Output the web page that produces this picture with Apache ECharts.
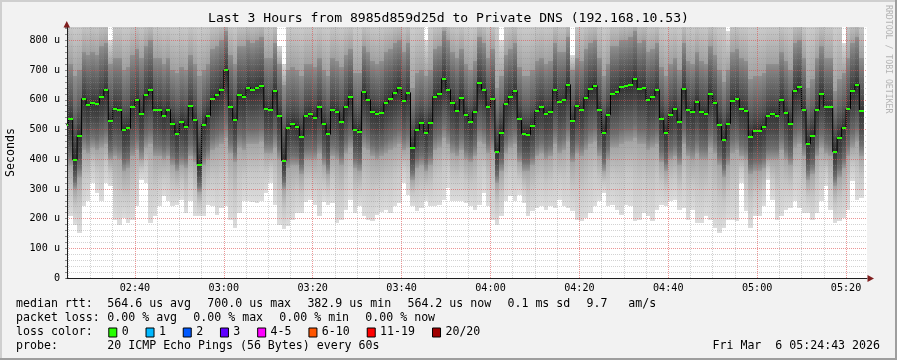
<!DOCTYPE html>
<html><head><meta charset="utf-8">
<script src="https://cdn.jsdelivr.net/npm/echarts@6/dist/echarts.min.js"></script>
<style>html,body{margin:0;padding:0;background:#f2f2f2}#c{width:897px;height:360px}</style>
</head><body><div id="c"></div>
<script>
// ---------------- data ----------------
const titleText = 'Last 3 Hours from 8985d859d25d to Private DNS (192.168.10.53)';
const rangeStart = '02:24:43';
const rangeEnd = '05:24:43';
const firstBarStart = '02:24';          // one bar per minute
const xTickLabels = ['02:40','03:00','03:20','03:40','04:00','04:20','04:40','05:00','05:20'];
const yTickValues = [0,100,200,300,400,500,600,700,800];

// median RTT per minute (microseconds)
const medianUs = [
516,536,398,477,604,581,588,585,608,634,
527,570,565,497,504,577,600,553,617,634,
567,567,547,567,520,486,526,510,579,531,
382,516,547,604,617,634,700,577,531,617,
611,641,634,641,648,570,567,631,547,395,
506,520,510,474,547,553,540,574,520,484,
567,560,526,577,611,499,493,627,600,560,
553,557,590,604,624,641,597,624,439,499,
523,489,523,611,621,671,634,590,563,607,
550,526,560,658,634,574,604,425,489,587,
611,631,536,486,483,513,563,577,553,560,
634,594,600,651,530,580,567,607,637,648,
567,489,550,621,625,644,648,651,671,637,
641,600,611,634,536,489,550,570,526,637,
565,560,594,560,553,621,590,516,464,520,
597,604,570,561,476,496,496,510,547,553,
547,600,557,520,631,644,567,452,479,567,
621,577,574,425,472,506,570,631,651,563];

// fastest ping per minute (bottom of the smoke)
const minUs = [
208,208,180,152,241,258,320,286,258,320,
309,196,180,202,185,196,241,331,320,185,
208,241,275,258,241,247,264,219,258,208,
208,208,247,241,213,236,241,196,168,219,
258,258,255,252,258,286,320,247,180,165,
174,196,219,219,255,264,247,208,255,247,
252,185,196,230,264,219,241,208,196,191,
213,221,230,219,241,252,320,281,241,224,
236,258,241,241,247,264,303,258,258,258,
252,241,230,247,286,241,196,180,208,258,
275,258,281,252,208,224,236,241,230,241,
236,264,241,236,224,196,191,202,219,241,
258,286,241,247,230,213,247,241,191,196,
219,208,191,230,247,241,258,264,230,236,
196,230,185,185,208,196,168,152,168,196,
196,191,320,224,168,208,208,241,331,264,
196,208,230,236,258,236,219,219,196,219,
258,309,230,185,191,202,230,325,264,269];

// lower edge of the dense smoke
const lowUs = [
390,380,300,340,430,420,440,430,440,450,
400,410,400,360,370,410,430,400,440,450,
410,410,400,410,380,360,380,370,410,390,
290,380,400,430,440,450,470,420,390,440,
430,450,450,450,460,420,420,440,400,300,
370,380,380,350,400,400,400,420,380,350,
410,400,380,420,440,370,360,440,430,410,
400,410,420,430,440,450,430,440,330,370,
380,360,380,430,440,470,450,420,410,430,
400,390,410,460,450,420,430,320,360,420,
440,450,390,360,360,380,410,420,400,410,
450,420,430,460,390,420,410,430,450,460,
410,360,400,440,440,450,460,460,470,450,
450,430,440,450,390,360,400,410,380,450,
410,400,420,400,400,440,420,380,340,380,
420,430,410,400,350,360,360,370,400,400,
400,430,400,380,440,450,410,330,350,410,
440,420,410,310,340,370,410,440,460,410];

// upper edge of the dense smoke
const highUs = [
700,720,680,700,760,750,760,750,780,790,
720,740,740,700,710,750,770,740,780,800,
740,740,720,740,700,690,710,700,750,720,
680,700,720,770,780,800,830,750,720,780,
780,800,790,800,810,740,740,790,720,650,
700,710,700,680,720,720,710,740,700,680,
740,730,710,750,770,690,690,780,760,730,
720,730,760,770,790,800,760,790,640,690,
700,680,700,770,780,830,800,760,740,770,
720,700,730,810,790,740,770,640,680,750,
770,790,710,680,680,700,730,740,720,730,
790,760,760,810,700,740,730,770,790,800,
740,680,720,780,780,800,800,810,830,790,
800,760,770,790,710,680,720,740,700,790,
730,720,760,730,720,780,750,700,660,700,
760,770,740,730,670,680,680,690,720,720,
720,760,730,700,790,800,740,640,670,740,
780,740,740,630,670,690,740,790,810,740];

// slowest ping per minute (top of the smoke, often above the chart)
const maxUs = [
900,900,900,900,900,900,900,900,900,900,
800,900,900,900,900,900,900,900,900,900,
900,900,900,900,900,900,900,900,900,900,
900,900,900,900,900,900,900,900,900,900,
900,900,900,900,900,900,900,900,780,720,
900,900,900,900,900,900,900,900,900,900,
900,900,900,900,900,900,900,900,900,900,
900,900,900,900,900,900,900,900,900,900,
900,800,900,900,900,900,900,900,900,900,
900,900,900,900,900,900,900,900,800,900,
900,900,900,900,900,900,900,900,900,900,
900,900,900,900,750,900,900,900,900,900,
900,900,900,900,900,900,900,900,900,900,
900,900,900,900,900,900,900,900,900,900,
900,900,900,900,900,900,900,900,900,830,
900,900,900,900,900,900,900,900,900,900,
900,900,900,900,900,900,900,900,900,900,
900,900,900,900,900,790,900,900,900,900];

const legendRtt = ['median rtt:', '564.6 us avg', '700.0 us max', '382.9 us min', '564.2 us now', '0.1 ms sd', '9.7   am/s'];
const legendLoss = ['packet loss:', '0.00 % avg', '0.00 % max', '0.00 % min', '0.00 % now'];
const lossLabels = ['0','1','2','3','4-5','6-10','11-19','20/20'];
const lossColors = ['#26ff00','#00b8ff','#0059ff','#5e00ff','#ff00ff','#ff5500','#ff0000','#a00000'];
const probeText = ['probe:', '20 ICMP Echo Pings (56 Bytes) every 60s'];
const dateText = 'Fri Mar  6 05:24:43 2026';

// ---------------- build ----------------
const toMin = s => { const p = s.split(':').map(Number); return p[0]*60 + p[1] + (p[2]||0)/60; };
const xMin = toMin(rangeStart), xMax = toMin(rangeEnd), bar0 = toMin(firstBarStart);
const smokeData = medianUs.map((m,j)=>[bar0+j, minUs[j], lowUs[j], m, highUs[j], maxUs[j]]);
const medData = medianUs.map((m,j)=>[bar0+j, m]);
const stepData = medianUs.map((m,j)=>[bar0+j+0.5, m]);
const majorX = xTickLabels.map(toMin);

const MINOR = 'rgba(143,143,143,0.4)', MAJOR = 'rgba(222,79,79,0.6)';
const vLines = [];
for (let v = Math.ceil(xMin/5)*5; v <= xMax; v += 5) {
  const isMajor = majorX.includes(v);
  vLines.push({xAxis: v, lineStyle: {color: isMajor ? MAJOR : MINOR, type: [1,1], width: 1}});
}

const MONO = 'DejaVu Sans Mono';
function grad(yTop, yBot, stops) {
  return {type:'linear', x:0, y:yTop, x2:0, y2:yBot, global:true,
          colorStops: stops.map(s=>({offset:s[0], color:s[1]}))};
}
function smokeItem(params, api) {
  const cs = params.coordSys;
  const t0 = api.value(0);
  const xa = Math.round(Math.max(api.coord([t0, 0])[0], cs.x));
  const xb = Math.round(Math.min(api.coord([t0+1, 0])[0], cs.x + cs.width));
  if (xb <= xa) return;
  const Y = v => api.coord([t0, v])[1];
  const top = cs.y, bot = cs.y + cs.height;
  const cl = y => Math.min(bot, Math.max(top, y));
  const yMin = Y(api.value(1)), yLow = Y(api.value(2)), yMed = Y(api.value(3)),
        yHigh = Y(api.value(4)), yMax = Y(api.value(5));
  const ch = [];
  function band(ya, yb, stops) {
    const a = Math.round(cl(ya)), b = Math.round(cl(yb));
    if (b - a <= 0) return;
    ch.push({type:'rect', shape:{x:xa, y:a, width:xb-xa, height:b-a},
             style:{fill: grad(ya, yb, stops)}});
  }
  band(yLow, yMin, [[0,'#a4a4a4'],[0.5,'#c8c8c8'],[1,'#dddddd']]);
  band(yMed, yLow, [[0,'#333333'],[0.35,'#484848'],[0.75,'#6e6e6e'],[1,'#9a9a9a']]);
  band(yHigh, yMed, [[0,'#8e8e8e'],[0.4,'#6a6a6a'],[0.8,'#484848'],[1,'#333333']]);
  band(yMax, yHigh, [[0,'#d8d8d8'],[0.5,'#bdbdbd'],[1,'#a0a0a0']]);
  return {type:'group', children: ch};
}
function medItem(params, api) {
  const cs = params.coordSys;
  const t0 = api.value(0);
  const xa = Math.round(Math.max(api.coord([t0, 0])[0], cs.x));
  const xb = Math.round(Math.min(api.coord([t0+1, 0])[0], cs.x + cs.width));
  if (xb <= xa) return;
  const y = Math.round(api.coord([t0, api.value(1)])[1]);
  return {type:'rect', shape:{x:xa, y:y-1, width:xb-xa, height:2}, style:{fill:'#26ff00'}};
}

// legend graphics
const CW = 7.02, GAP = 15.8, LX = 16, VX = 107.3;
const g = [];
function txt(x, y, s, o) {
  g.push(Object.assign({type:'text', silent:true, style:Object.assign({
    text:s, x:x, y:y, fill:'#000', fontFamily:MONO, fontSize:11.6, verticalAlign:'middle', align:'left'}, o||{})}));
}
// frame
g.push({type:'rect', silent:true, shape:{x:0,y:0,width:897,height:2}, style:{fill:'#cfcfcf'}});
g.push({type:'rect', silent:true, shape:{x:0,y:0,width:2,height:360}, style:{fill:'#cfcfcf'}});
g.push({type:'rect', silent:true, shape:{x:0,y:358,width:897,height:2}, style:{fill:'#9e9e9e'}});
g.push({type:'rect', silent:true, shape:{x:895,y:0,width:2,height:360}, style:{fill:'#9e9e9e'}});
// title & watermark
txt(448.5, 19, titleText, {fontSize:13.1, align:'center'});
g.push({type:'text', silent:true, x:888, y:5, rotation:-Math.PI/2,
  style:{text:'RRDTOOL / TOBI OETIKER', x:0, y:0, fill:'#b4b4b4', fontFamily:MONO, fontSize:8.2, verticalAlign:'middle', align:'left'}});
// arrows
g.push({type:'polygon', silent:true, z:10, shape:{points:[[63.5,27.5],[70,27.5],[66.75,21]]}, style:{fill:'#801f1f'}});
g.push({type:'polygon', silent:true, z:10, shape:{points:[[867.5,275],[867.5,282],[874,278.5]]}, style:{fill:'#801f1f'}});
// line 1
txt(LX, 304, legendRtt[0]);
let x = VX;
for (let i = 1; i < legendRtt.length; i++) { txt(x, 304, legendRtt[i]); x += legendRtt[i].length*CW + GAP; }
// line 2
txt(LX, 318, legendLoss[0]);
x = VX;
for (let i = 1; i < legendLoss.length; i++) { txt(x, 318, legendLoss[i]); x += legendLoss[i].length*CW + GAP; }
// line 3
txt(LX, 332, 'loss color:');
x = VX;
for (let i = 0; i < lossLabels.length; i++) {
  g.push({type:'rect', silent:true, shape:{x:x+1.5, y:328, width:8, height:9},
          style:{fill:lossColors[i], stroke:'#000', lineWidth:1}});
  txt(x + 14.4, 332, lossLabels[i]);
  x += 14.4 + lossLabels[i].length*CW + GAP;
}
// line 4
txt(LX, 346, probeText[0]);
txt(VX, 346, probeText[1]);
txt(880, 346, dateText, {align:'right'});

const chart = echarts.init(document.getElementById('c'), null, {renderer:'canvas'});
chart.setOption({
  animation: false,
  backgroundColor: '#f2f2f2',
  grid: {left:67, right:30, top:27, bottom:82, show:true, backgroundColor:'#ffffff', borderWidth:0, outerBoundsMode:'none'},
  xAxis: {
    type:'value', min:xMin, max:xMax, z:3,
    axisLine:{show:true, lineStyle:{color:'#1f1f1f', width:1}},
    axisTick:{show:false},
    splitLine:{show:false},
    axisLabel:{customValues: majorX, margin:5, color:'#000', fontFamily:MONO, fontSize:10.15,
      formatter: v => { const i = majorX.indexOf(v); return i >= 0 ? xTickLabels[i] : ''; }}
  },
  yAxis: {
    type:'value', min:0, max:845, interval:20, z:2,
    name:'Seconds', nameLocation:'middle', nameGap:50,
    nameTextStyle:{fontFamily:MONO, fontSize:11.6, color:'#000'},
    axisLine:{show:true, lineStyle:{color:'#1f1f1f', width:1}},
    axisTick:{show:true, length:2, lineStyle:{color:'#8f8f8f'}},
    splitLine:{show:true, showMaxLine:false, lineStyle:{type:[1,1], width:1, color:[MAJOR, MINOR, MINOR, MINOR, MINOR]}},
    axisLabel:{margin:7, color:'#000', fontFamily:MONO, fontSize:10.15,
      formatter: v => yTickValues.includes(v) ? (v === 0 ? '0' : v + ' u') : ''}
  },
  graphic: g,
  series: [
    {type:'custom', name:'smoke', z:1, renderItem: smokeItem, data: smokeData, silent:true},
    {type:'line', name:'median', z:3, step:'middle', data: stepData, symbol:'none', silent:true,
     lineStyle:{color:'#000', width:1},
     markLine:{silent:true, symbol:['none','none'], label:{show:false}, animation:false, data:vLines}},
    {type:'custom', name:'medianMark', z:4, renderItem: medItem, data: medData, silent:true}
  ]
});
</script></body></html>
